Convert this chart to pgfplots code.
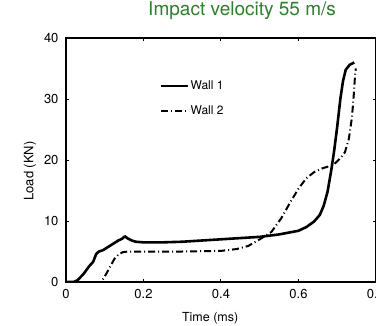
\documentclass[border=0pt]{standalone}
\usepackage{fontspec}
\setmainfont{TeX Gyre Heros}
\usepackage{pgfplots}
\pgfplotsset{compat=1.18}
\definecolor{titlegreen}{RGB}{40,130,40}
\begin{document}
\begin{tikzpicture}[x=1pt,y=1pt]
\begin{axis}[
  at={(66pt,43pt)}, anchor=south west,
  scale only axis, width=310pt, height=244pt,
  xmin=0, xmax=0.8, ymin=0, ymax=40,
  xtick={0,0.2,0.4,0.6,0.8}, ytick={0,10,20,30,40},
  xticklabels={0,0.2,0.4,0.6,0.8},
  tick align=inside, major tick length=3pt,
  tick style={line width=1pt, black},
  axis line style={line width=1.5pt},
  /pgf/number format/assume math mode=true,
  ticklabel style={font=\fontsize{13}{13}\selectfont},
  xticklabel style={yshift=-4pt},
  yticklabel style={xshift=-4pt},
  xlabel={Time (ms)},
  ylabel={Load (KN)},
  xlabel style={at={(axis description cs:0.465,-0.15)}, anchor=center, font=\fontsize{12.5}{12.5}\selectfont},
  ylabel style={at={(axis description cs:-0.116,0.455)}, anchor=center, font=\fontsize{13}{13}\selectfont},
  title={Impact velocity 55 m/s},
  title style={at={(axis description cs:0.568,1.086)}, anchor=center, font=\fontsize{19}{19}\selectfont, text=titlegreen},
  legend style={draw=none, fill=none, at={(axis description cs:0.303,0.83)}, anchor=north west, inner sep=0pt, row sep=13pt, font=\fontsize{12}{12}\selectfont, nodes={inner sep=1pt}},
  legend cell align=left,
  legend image code/.code={\draw[#1] (0pt,0pt) -- (27pt,0pt);},
]
\addplot[black, line width=2.6pt, line join=round] coordinates {
(0,0) (0.02,0) (0.03,0.3) (0.045,1.3) (0.06,2.6) (0.07,3.3) (0.078,4.6) (0.085,5.0)
(0.095,5.2) (0.105,5.6) (0.115,6.0) (0.125,6.4) (0.135,6.8) (0.145,7.1) (0.152,7.5)
(0.16,7.1) (0.17,6.8) (0.18,6.6) (0.2,6.5) (0.25,6.5) (0.3,6.6) (0.35,6.8) (0.4,7.0)
(0.45,7.2) (0.5,7.4) (0.55,7.8) (0.6,8.4) (0.62,9.0) (0.64,9.9) (0.655,11.0)
(0.665,12.5) (0.675,14.8) (0.685,18.5) (0.692,21.5) (0.70,25.5) (0.708,30.0)
(0.715,33.0) (0.722,34.8) (0.732,35.6) (0.744,36.0)
};
\addlegendentry{Wall 1}
\addplot[black, line width=2pt, dash pattern=on 7pt off 3pt on 1pt off 3pt] coordinates {
(0,0) (0.09,0) (0.1,0.9) (0.113,2.4) (0.125,3.8) (0.135,4.5) (0.147,4.9) (0.16,5.0)
(0.2,5.0) (0.3,5.0) (0.4,5.1) (0.44,5.4) (0.47,5.9) (0.5,7.0) (0.53,8.2) (0.555,10.4)
(0.58,13.2) (0.6,15.3) (0.62,17.0) (0.64,18.0) (0.66,18.6) (0.69,19.2) (0.71,20.4)
(0.72,21.3) (0.73,23.5) (0.738,27.0) (0.743,31.0) (0.746,34.0) (0.748,35.0)
};
\addlegendentry{Wall 2}
\end{axis}
\pgfresetboundingbox
\path[use as bounding box] (0,0) rectangle (376,325);
\end{tikzpicture}
\end{document}
